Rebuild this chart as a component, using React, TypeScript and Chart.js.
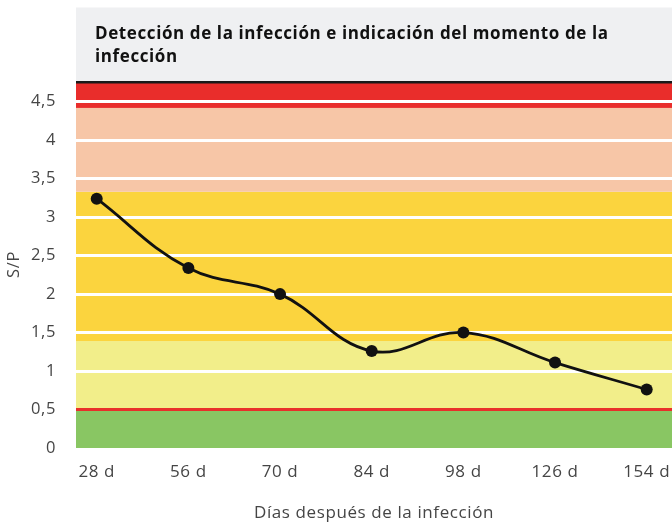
import { useEffect, useRef } from "react";
import { Chart, registerables } from "chart.js";

Chart.register(...registerables);

// ---- data ----
const categories = ["28 d", "56 d", "70 d", "84 d", "98 d", "126 d", "154 d"];
const spValues = [3.24, 2.34, 2.0, 1.26, 1.5, 1.11, 0.76];
const bandEdges = [0, 0.5, 1.39, 3.33, 4.42, 4.77];
const bandColors = ["#89C663", "#F2EE8A", "#FBD43E", "#F7C6A7", "#E92D2B"];
const titleLines = [
  "Detección de la infección e indicación del momento de la",
  "infección",
];
const xTitle = "Días después de la infección";
const yTitle = "S/P";
const yMin = 0;
const yMax = 4.77;
const yStep = 0.5;
const thresholdValue = 0.5;

const FONT = "'Open Sans', 'Noto Sans', sans-serif";
const TEXT_COLOR = "#454545";

const bandsPlugin = {
  id: "bands",
  beforeDraw(chart: any) {
    const { ctx, chartArea, scales } = chart;
    const { left, right, top } = chartArea;
    const y = scales.y;
    ctx.save();
    // title box
    ctx.fillStyle = "#EFF0F2";
    ctx.fillRect(left, 7.5, right - left, top - 7.5);
    ctx.fillStyle = "#111111";
    ctx.font = `700 17px ${FONT}`;
    (ctx as any).letterSpacing = "0.6px";
    ctx.textBaseline = "alphabetic";
    ctx.textAlign = "left";
    titleLines.forEach((t, i) => ctx.fillText(t, left + 19, 39 + i * 23));
    // bands
    for (let i = 0; i < bandColors.length; i++) {
      const y0 = y.getPixelForValue(bandEdges[i]);
      const y1 = y.getPixelForValue(bandEdges[i + 1]);
      ctx.fillStyle = bandColors[i];
      ctx.fillRect(left, y1, right - left, y0 - y1);
    }
    ctx.restore();
    // slightly wider axis text, like the reference's typeface
    (ctx as any).letterSpacing = "0.6px";
  },
  beforeDatasetsDraw(chart: any) {
    const { ctx, chartArea } = chart;
    ctx.save();
    ctx.fillStyle = "#1A1A1A";
    ctx.fillRect(chartArea.left, chartArea.top, chartArea.right - chartArea.left, 2.5);
    ctx.restore();
  },
  afterDraw(chart: any) {
    (chart.ctx as any).letterSpacing = "0px";
  },
};

function SPChart() {
  const ref = useRef<HTMLCanvasElement | null>(null);
  useEffect(() => {
    if (!ref.current) return;
    const chart = new Chart(ref.current, {
      type: "line",
      data: {
        datasets: [
          {
            data: spValues.map((v, i) => ({ x: i, y: v })),
            borderColor: "#111111",
            backgroundColor: "#111111",
            borderWidth: 2.8,
            pointRadius: 6,
            pointBackgroundColor: "#111111",
            pointBorderWidth: 0,
            tension: 0.4,
            fill: false,
          },
        ],
      },
      options: {
        responsive: false,
        animation: false,
        layout: { autoPadding: false, padding: { top: 81, left: 0, right: 0, bottom: 0 } },
        plugins: {
          legend: { display: false },
          tooltip: { enabled: false },
          title: { display: false },
        },
        scales: {
          x: {
            type: "linear",
            min: -0.226,
            max: 6.276,
            afterFit: (s: any) => {
              s.height = 78;
              s.paddingLeft = 0;
              s.paddingRight = 0;
            },
            grid: { display: false, drawTicks: false },
            border: { display: false },
            ticks: {
              stepSize: 1,
              includeBounds: false,
              autoSkip: false,
              maxRotation: 0,
              padding: 14,
              color: TEXT_COLOR,
              font: { family: FONT, size: 17 },
              callback: (v: any) =>
                Number.isInteger(v) && categories[v] !== undefined ? categories[v] : "",
            },
            title: {
              display: true,
              text: xTitle,
              color: TEXT_COLOR,
              font: { family: FONT, size: 17 },
              padding: { top: 0, bottom: 3 },
            },
          },
          y: {
            type: "linear",
            min: yMin,
            max: yMax,
            afterFit: (s: any) => {
              s.width = 76;
              s.paddingTop = 0;
              s.paddingBottom = 0;
            },
            grid: {
              drawTicks: false,
              lineWidth: 3,
              color: (c: any) => {
                const v = c.tick ? c.tick.value : null;
                if (v === thresholdValue) return "#E8302A";
                if (v === 0) return "rgba(0,0,0,0)";
                return "#FFFFFF";
              },
            },
            border: { display: false },
            ticks: {
              stepSize: yStep,
              includeBounds: false,
              padding: 20,
              color: TEXT_COLOR,
              font: { family: FONT, size: 16.5 },
              callback: (v: any) => String(v).replace(".", ","),
            },
            title: {
              display: true,
              text: yTitle,
              color: TEXT_COLOR,
              font: { family: FONT, size: 16.5 },
              padding: { top: 4, bottom: 0 },
            },
          },
        },
      },
      plugins: [bandsPlugin],
    } as any);
    return () => chart.destroy();
  }, []);
  return <canvas ref={ref} width={672} height={526} />;
}

export default function App() {
  return (
    <div style={{ position: "absolute", left: 0, top: 0, width: 672, height: 526, background: "#fff" }}>
      <SPChart />
    </div>
  );
}
